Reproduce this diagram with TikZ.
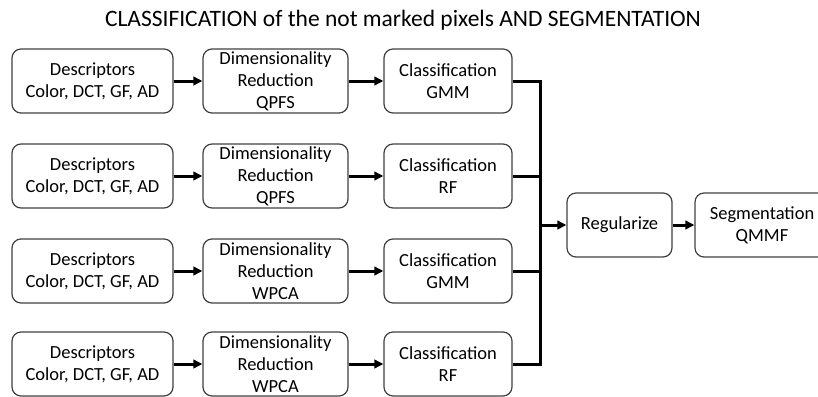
\documentclass[tikz,border=0pt]{standalone}
\usepackage{fontspec}
\setmainfont{Carlito}
\usetikzlibrary{arrows.meta}
\tikzset{
	blok/.style={draw=black!75,line width=1.2pt,rectangle,rounded corners=9pt,align=center,font=\fontsize{18.5}{22}\selectfont,minimum height=64pt,inner sep=0pt},
	link/.style={line width=3pt},
	arr/.style={link,-{Triangle[length=9pt,width=8.5pt]}}
}
\begin{document}
\begin{tikzpicture}[x=1pt,y=-1pt]
		\useasboundingbox (0,0) rectangle (818,396);
		% title
		\node[font=\fontsize{23.5}{26}\selectfont,anchor=base] (t) at (403,27) {CLASSIFICATION of the not marked pixels AND SEGMENTATION};

		% first row
		\node[blok,minimum width=161pt] (11) at (92.5,81) {Descriptors\\Color, DCT, GF, AD};
		\node[blok,minimum width=145pt] (12) at (275.5,81) {Dimensionality\\Reduction\\QPFS};
		\node[blok,minimum width=128pt] (13) at (448,81) {Classification\\GMM};
		\draw[arr] (11) -- (12);
		\draw[arr] (12) -- (13);

		% second row
		\node[blok,minimum width=161pt] (21) at (92.5,176) {Descriptors\\Color, DCT, GF, AD};
		\node[blok,minimum width=145pt] (22) at (275.5,176) {Dimensionality\\Reduction\\QPFS};
		\node[blok,minimum width=128pt] (23) at (448,176) {Classification\\RF};
		\draw[arr] (21) -- (22);
		\draw[arr] (22) -- (23);

		% third row
		\node[blok,minimum width=161pt] (31) at (92.5,271) {Descriptors\\Color, DCT, GF, AD};
		\node[blok,minimum width=145pt] (32) at (275.5,271) {Dimensionality\\Reduction\\WPCA};
		\node[blok,minimum width=128pt] (33) at (448,271) {Classification\\GMM};
		\draw[arr] (31) -- (32);
		\draw[arr] (32) -- (33);

		% fourth row
		\node[blok,minimum width=161pt] (41) at (92.5,364) {Descriptors\\Color, DCT, GF, AD};
		\node[blok,minimum width=145pt] (42) at (275.5,364) {Dimensionality\\Reduction\\WPCA};
		\node[blok,minimum width=128pt] (43) at (448,364) {Classification\\RF};
		\draw[arr] (41) -- (42);
		\draw[arr] (42) -- (43);

		% merge and final steps
		\node[blok,minimum width=105pt] (5) at (619.5,225) {Regularize};
		\node[blok,minimum width=134pt] (6) at (762,225) {Segmentation\\QMMF};
		\coordinate (b) at (540,225);
		\draw[link] (13.east) -| (b) |- (43.east);
		\draw[link] (23.east) -- (23.east -| b);
		\draw[link] (33.east) -- (33.east -| b);
		\draw[arr] (b) -- (5);
		\draw[arr] (5) -- (6);
	\end{tikzpicture}
\end{document}
